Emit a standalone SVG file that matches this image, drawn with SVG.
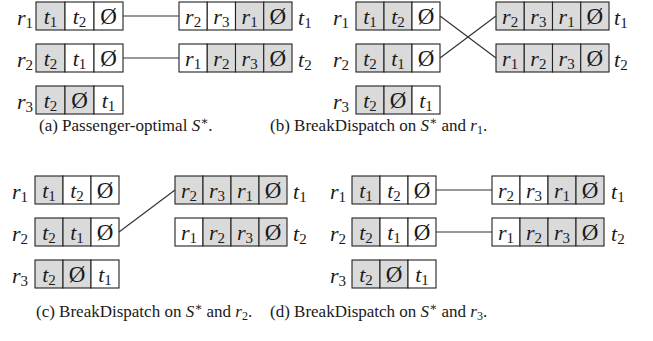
<svg xmlns="http://www.w3.org/2000/svg" width="653" height="341" viewBox="0 0 653 341" font-family="'Liberation Serif', 'DejaVu Serif', serif">
<style>
  .bg{fill:#fff}
  .c{fill:#fff;stroke:#222;stroke-width:1.1}
  .g{fill:#dadada;stroke:#222;stroke-width:1.1}
  .m{font-family:'Liberation Serif','DejaVu Serif',serif;font-size:22px;font-style:italic;fill:#1a1a1a}
  .mc{text-anchor:middle}
  .s{font-style:normal;font-size:15px}
  .e{font-style:normal;font-size:23px}
  .link{stroke:#333;stroke-width:1.2;fill:none}
  .cap{font-family:'Liberation Serif','DejaVu Serif',serif;font-size:17px;fill:#1a1a1a}
  .it{font-style:italic}
  .sup{font-size:12px}
  .sub{font-size:12px}
</style>
<rect class="bg" width="653" height="341"/>

<!-- panel (a) -->
<g id="a-r1">
  <text class="m" x="17" y="25">r<tspan class="s" dy="3">1</tspan></text>
  <rect class="g" x="36" y="2" width="29" height="28"/><rect class="c" x="65" y="2" width="29" height="28"/><rect class="c" x="94" y="2" width="29" height="28"/>
  <text class="m mc" x="50.5" y="24">t<tspan class="s" dy="3">1</tspan></text>
  <text class="m mc" x="79.5" y="24">t<tspan class="s" dy="3">2</tspan></text>
  <text class="m mc e" x="108.5" y="24">Ø</text>
</g>
<g id="a-r2">
  <text class="m" x="17" y="67">r<tspan class="s" dy="3">2</tspan></text>
  <rect class="g" x="36" y="44" width="29" height="28"/><rect class="c" x="65" y="44" width="29" height="28"/><rect class="c" x="94" y="44" width="29" height="28"/>
  <text class="m mc" x="50.5" y="66">t<tspan class="s" dy="3">2</tspan></text>
  <text class="m mc" x="79.5" y="66">t<tspan class="s" dy="3">1</tspan></text>
  <text class="m mc e" x="108.5" y="66">Ø</text>
</g>
<g id="a-r3">
  <text class="m" x="17" y="109">r<tspan class="s" dy="3">3</tspan></text>
  <rect class="g" x="36" y="86" width="29" height="28"/><rect class="g" x="65" y="86" width="29" height="28"/><rect class="c" x="94" y="86" width="29" height="28"/>
  <text class="m mc" x="50.5" y="108">t<tspan class="s" dy="3">2</tspan></text>
  <text class="m mc e" x="79.5" y="108">Ø</text>
  <text class="m mc" x="108.5" y="108">t<tspan class="s" dy="3">1</tspan></text>
</g>
<g id="a-t1">
  <rect class="c" x="179" y="2" width="28.25" height="28"/><rect class="c" x="207.25" y="2" width="28.25" height="28"/><rect class="g" x="235.5" y="2" width="28.25" height="28"/><rect class="g" x="263.75" y="2" width="28.25" height="28"/>
  <text class="m mc" x="193.1" y="24">r<tspan class="s" dy="3">2</tspan></text>
  <text class="m mc" x="221.4" y="24">r<tspan class="s" dy="3">3</tspan></text>
  <text class="m mc" x="249.6" y="24">r<tspan class="s" dy="3">1</tspan></text>
  <text class="m mc e" x="277.9" y="24">Ø</text>
  <text class="m" x="298" y="25">t<tspan class="s" dy="3">1</tspan></text>
</g>
<g id="a-t2">
  <rect class="c" x="179" y="44" width="28.25" height="28"/><rect class="g" x="207.25" y="44" width="28.25" height="28"/><rect class="g" x="235.5" y="44" width="28.25" height="28"/><rect class="g" x="263.75" y="44" width="28.25" height="28"/>
  <text class="m mc" x="193.1" y="66">r<tspan class="s" dy="3">1</tspan></text>
  <text class="m mc" x="221.4" y="66">r<tspan class="s" dy="3">2</tspan></text>
  <text class="m mc" x="249.6" y="66">r<tspan class="s" dy="3">3</tspan></text>
  <text class="m mc e" x="277.9" y="66">Ø</text>
  <text class="m" x="298" y="67">t<tspan class="s" dy="3">2</tspan></text>
</g>

<!-- panel (b) -->
<g id="b-r1">
  <text class="m" x="333" y="25">r<tspan class="s" dy="3">1</tspan></text>
  <rect class="g" x="356" y="2" width="28" height="28"/><rect class="g" x="384" y="2" width="28" height="28"/><rect class="c" x="412" y="2" width="28" height="28"/>
  <text class="m mc" x="370" y="24">t<tspan class="s" dy="3">1</tspan></text>
  <text class="m mc" x="398" y="24">t<tspan class="s" dy="3">2</tspan></text>
  <text class="m mc e" x="426" y="24">Ø</text>
</g>
<g id="b-r2">
  <text class="m" x="333" y="67">r<tspan class="s" dy="3">2</tspan></text>
  <rect class="g" x="356" y="44" width="28" height="28"/><rect class="g" x="384" y="44" width="28" height="28"/><rect class="c" x="412" y="44" width="28" height="28"/>
  <text class="m mc" x="370" y="66">t<tspan class="s" dy="3">2</tspan></text>
  <text class="m mc" x="398" y="66">t<tspan class="s" dy="3">1</tspan></text>
  <text class="m mc e" x="426" y="66">Ø</text>
</g>
<g id="b-r3">
  <text class="m" x="333" y="109">r<tspan class="s" dy="3">3</tspan></text>
  <rect class="g" x="356" y="86" width="28" height="28"/><rect class="g" x="384" y="86" width="28" height="28"/><rect class="c" x="412" y="86" width="28" height="28"/>
  <text class="m mc" x="370" y="108">t<tspan class="s" dy="3">2</tspan></text>
  <text class="m mc e" x="398" y="108">Ø</text>
  <text class="m mc" x="426" y="108">t<tspan class="s" dy="3">1</tspan></text>
</g>
<g id="b-t1">
  <rect class="g" x="496" y="2" width="28.25" height="28"/><rect class="g" x="524.25" y="2" width="28.25" height="28"/><rect class="g" x="552.5" y="2" width="28.25" height="28"/><rect class="g" x="580.75" y="2" width="28.25" height="28"/>
  <text class="m mc" x="510.1" y="24">r<tspan class="s" dy="3">2</tspan></text>
  <text class="m mc" x="538.4" y="24">r<tspan class="s" dy="3">3</tspan></text>
  <text class="m mc" x="566.6" y="24">r<tspan class="s" dy="3">1</tspan></text>
  <text class="m mc e" x="594.9" y="24">Ø</text>
  <text class="m" x="614" y="25">t<tspan class="s" dy="3">1</tspan></text>
</g>
<g id="b-t2">
  <rect class="g" x="496" y="44" width="28.25" height="28"/><rect class="g" x="524.25" y="44" width="28.25" height="28"/><rect class="g" x="552.5" y="44" width="28.25" height="28"/><rect class="g" x="580.75" y="44" width="28.25" height="28"/>
  <text class="m mc" x="510.1" y="66">r<tspan class="s" dy="3">1</tspan></text>
  <text class="m mc" x="538.4" y="66">r<tspan class="s" dy="3">2</tspan></text>
  <text class="m mc" x="566.6" y="66">r<tspan class="s" dy="3">3</tspan></text>
  <text class="m mc e" x="594.9" y="66">Ø</text>
  <text class="m" x="614" y="67">t<tspan class="s" dy="3">2</tspan></text>
</g>

<!-- panel (c) -->
<g id="c-r1">
  <text class="m" x="12" y="199">r<tspan class="s" dy="3">1</tspan></text>
  <rect class="g" x="35" y="176" width="28" height="28"/><rect class="c" x="63" y="176" width="28" height="28"/><rect class="c" x="91" y="176" width="28" height="28"/>
  <text class="m mc" x="49" y="198">t<tspan class="s" dy="3">1</tspan></text>
  <text class="m mc" x="77" y="198">t<tspan class="s" dy="3">2</tspan></text>
  <text class="m mc e" x="105" y="198">Ø</text>
</g>
<g id="c-r2">
  <text class="m" x="12" y="241">r<tspan class="s" dy="3">2</tspan></text>
  <rect class="g" x="35" y="218" width="28" height="28"/><rect class="g" x="63" y="218" width="28" height="28"/><rect class="c" x="91" y="218" width="28" height="28"/>
  <text class="m mc" x="49" y="240">t<tspan class="s" dy="3">2</tspan></text>
  <text class="m mc" x="77" y="240">t<tspan class="s" dy="3">1</tspan></text>
  <text class="m mc e" x="105" y="240">Ø</text>
</g>
<g id="c-r3">
  <text class="m" x="12" y="283">r<tspan class="s" dy="3">3</tspan></text>
  <rect class="g" x="35" y="260" width="28" height="28"/><rect class="g" x="63" y="260" width="28" height="28"/><rect class="c" x="91" y="260" width="28" height="28"/>
  <text class="m mc" x="49" y="282">t<tspan class="s" dy="3">2</tspan></text>
  <text class="m mc e" x="77" y="282">Ø</text>
  <text class="m mc" x="105" y="282">t<tspan class="s" dy="3">1</tspan></text>
</g>
<g id="c-t1">
  <rect class="g" x="175" y="176" width="28" height="28"/><rect class="g" x="203" y="176" width="28" height="28"/><rect class="g" x="231" y="176" width="28" height="28"/><rect class="g" x="259" y="176" width="28" height="28"/>
  <text class="m mc" x="189" y="198">r<tspan class="s" dy="3">2</tspan></text>
  <text class="m mc" x="217" y="198">r<tspan class="s" dy="3">3</tspan></text>
  <text class="m mc" x="245" y="198">r<tspan class="s" dy="3">1</tspan></text>
  <text class="m mc e" x="273" y="198">Ø</text>
  <text class="m" x="293" y="199">t<tspan class="s" dy="3">1</tspan></text>
</g>
<g id="c-t2">
  <rect class="c" x="175" y="218" width="28" height="28"/><rect class="g" x="203" y="218" width="28" height="28"/><rect class="g" x="231" y="218" width="28" height="28"/><rect class="g" x="259" y="218" width="28" height="28"/>
  <text class="m mc" x="189" y="240">r<tspan class="s" dy="3">1</tspan></text>
  <text class="m mc" x="217" y="240">r<tspan class="s" dy="3">2</tspan></text>
  <text class="m mc" x="245" y="240">r<tspan class="s" dy="3">3</tspan></text>
  <text class="m mc e" x="273" y="240">Ø</text>
  <text class="m" x="293" y="241">t<tspan class="s" dy="3">2</tspan></text>
</g>

<!-- panel (d) -->
<g id="d-r1">
  <text class="m" x="330" y="199">r<tspan class="s" dy="3">1</tspan></text>
  <rect class="g" x="352" y="176" width="28" height="28"/><rect class="c" x="380" y="176" width="28" height="28"/><rect class="c" x="408" y="176" width="28" height="28"/>
  <text class="m mc" x="366" y="198">t<tspan class="s" dy="3">1</tspan></text>
  <text class="m mc" x="394" y="198">t<tspan class="s" dy="3">2</tspan></text>
  <text class="m mc e" x="422" y="198">Ø</text>
</g>
<g id="d-r2">
  <text class="m" x="330" y="241">r<tspan class="s" dy="3">2</tspan></text>
  <rect class="g" x="352" y="218" width="28" height="28"/><rect class="c" x="380" y="218" width="28" height="28"/><rect class="c" x="408" y="218" width="28" height="28"/>
  <text class="m mc" x="366" y="240">t<tspan class="s" dy="3">2</tspan></text>
  <text class="m mc" x="394" y="240">t<tspan class="s" dy="3">1</tspan></text>
  <text class="m mc e" x="422" y="240">Ø</text>
</g>
<g id="d-r3">
  <text class="m" x="330" y="283">r<tspan class="s" dy="3">3</tspan></text>
  <rect class="g" x="352" y="260" width="28" height="28"/><rect class="g" x="380" y="260" width="28" height="28"/><rect class="c" x="408" y="260" width="28" height="28"/>
  <text class="m mc" x="366" y="282">t<tspan class="s" dy="3">2</tspan></text>
  <text class="m mc e" x="394" y="282">Ø</text>
  <text class="m mc" x="422" y="282">t<tspan class="s" dy="3">1</tspan></text>
</g>
<g id="d-t1">
  <rect class="c" x="492" y="176" width="28" height="28"/><rect class="c" x="520" y="176" width="28" height="28"/><rect class="g" x="548" y="176" width="28" height="28"/><rect class="g" x="576" y="176" width="28" height="28"/>
  <text class="m mc" x="506" y="198">r<tspan class="s" dy="3">2</tspan></text>
  <text class="m mc" x="534" y="198">r<tspan class="s" dy="3">3</tspan></text>
  <text class="m mc" x="562" y="198">r<tspan class="s" dy="3">1</tspan></text>
  <text class="m mc e" x="590" y="198">Ø</text>
  <text class="m" x="611" y="199">t<tspan class="s" dy="3">1</tspan></text>
</g>
<g id="d-t2">
  <rect class="c" x="492" y="218" width="28" height="28"/><rect class="g" x="520" y="218" width="28" height="28"/><rect class="g" x="548" y="218" width="28" height="28"/><rect class="g" x="576" y="218" width="28" height="28"/>
  <text class="m mc" x="506" y="240">r<tspan class="s" dy="3">1</tspan></text>
  <text class="m mc" x="534" y="240">r<tspan class="s" dy="3">2</tspan></text>
  <text class="m mc" x="562" y="240">r<tspan class="s" dy="3">3</tspan></text>
  <text class="m mc e" x="590" y="240">Ø</text>
  <text class="m" x="611" y="241">t<tspan class="s" dy="3">2</tspan></text>
</g>

<!-- connectors -->
<g id="connectors">
  <line class="link" x1="123" y1="16" x2="179" y2="16"/>
  <line class="link" x1="123" y1="58" x2="179" y2="58"/>
  <line class="link" x1="440" y1="16" x2="496" y2="58"/>
  <line class="link" x1="440" y1="58" x2="496" y2="16"/>
  <line class="link" x1="119" y1="232" x2="175" y2="190"/>
  <line class="link" x1="436" y1="190" x2="492" y2="190"/>
  <line class="link" x1="436" y1="232" x2="492" y2="232"/>
</g>

<!-- captions -->
<g id="captions">
  <text class="cap" x="39" y="131">(a) Passenger-optimal <tspan class="it">S</tspan><tspan class="sup" dy="-6">∗</tspan><tspan dy="6">.</tspan></text>
  <text class="cap" x="270" y="131">(b) BreakDispatch on <tspan class="it">S</tspan><tspan class="sup" dy="-6">∗</tspan><tspan dy="6"> and </tspan><tspan class="it">r</tspan><tspan class="sub" dy="3">1</tspan><tspan dy="-3">.</tspan></text>
  <text class="cap" x="36" y="317">(c) BreakDispatch on <tspan class="it">S</tspan><tspan class="sup" dy="-6">∗</tspan><tspan dy="6"> and </tspan><tspan class="it">r</tspan><tspan class="sub" dy="3">2</tspan><tspan dy="-3">.</tspan></text>
  <text class="cap" x="270" y="317">(d) BreakDispatch on <tspan class="it">S</tspan><tspan class="sup" dy="-6">∗</tspan><tspan dy="6"> and </tspan><tspan class="it">r</tspan><tspan class="sub" dy="3">3</tspan><tspan dy="-3">.</tspan></text>
</g>
</svg>
